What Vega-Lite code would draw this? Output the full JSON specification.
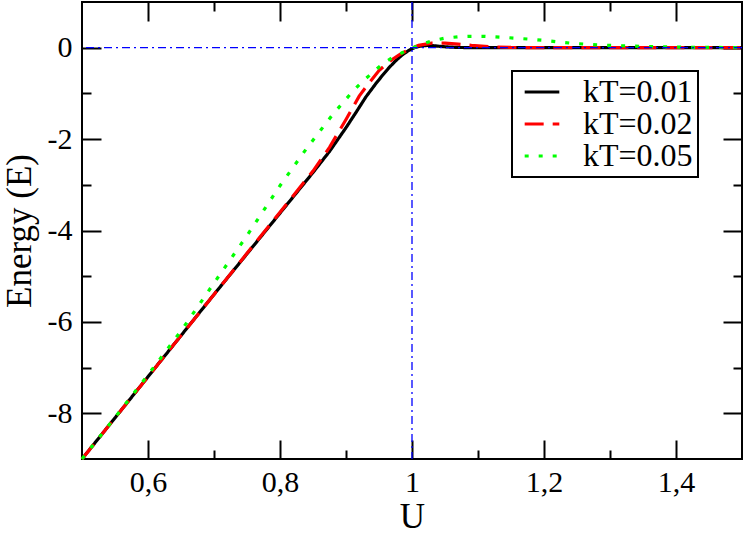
{
  "$schema": "https://vega.github.io/schema/vega-lite/v6.json",
  "width": 660,
  "height": 457,
  "autosize": {"type": "none"},
  "padding": {"left": 82, "top": 2, "right": 5, "bottom": 75},
  "config": {
    "view": {"stroke": "#000000", "strokeWidth": 2},
    "axis": {
      "domain": false,
      "grid": false,
      "labelFont": "Liberation Serif",
      "titleFont": "Liberation Serif",
      "labelColor": "#000000",
      "titleColor": "#000000",
      "tickColor": "#000000",
      "tickWidth": 2,
      "titleFontWeight": "normal"
    }
  },
  "datasets": {
    "curves": [
      {"U": 0.50, "E": -9.00, "kT": "kT=0.01"},
      {"U": 0.55, "E": -8.10, "kT": "kT=0.01"},
      {"U": 0.60, "E": -7.20, "kT": "kT=0.01"},
      {"U": 0.65, "E": -6.30, "kT": "kT=0.01"},
      {"U": 0.70, "E": -5.40, "kT": "kT=0.01"},
      {"U": 0.75, "E": -4.51, "kT": "kT=0.01"},
      {"U": 0.80, "E": -3.62, "kT": "kT=0.01"},
      {"U": 0.85, "E": -2.73, "kT": "kT=0.01"},
      {"U": 0.875, "E": -2.27, "kT": "kT=0.01"},
      {"U": 0.90, "E": -1.75, "kT": "kT=0.01"},
      {"U": 0.915, "E": -1.42, "kT": "kT=0.01"},
      {"U": 0.93, "E": -1.08, "kT": "kT=0.01"},
      {"U": 0.945, "E": -0.79, "kT": "kT=0.01"},
      {"U": 0.955, "E": -0.61, "kT": "kT=0.01"},
      {"U": 0.965, "E": -0.44, "kT": "kT=0.01"},
      {"U": 0.975, "E": -0.29, "kT": "kT=0.01"},
      {"U": 0.985, "E": -0.16, "kT": "kT=0.01"},
      {"U": 0.995, "E": -0.06, "kT": "kT=0.01"},
      {"U": 1.005, "E": 0.01, "kT": "kT=0.01"},
      {"U": 1.015, "E": 0.04, "kT": "kT=0.01"},
      {"U": 1.025, "E": 0.05, "kT": "kT=0.01"},
      {"U": 1.035, "E": 0.04, "kT": "kT=0.01"},
      {"U": 1.05, "E": 0.02, "kT": "kT=0.01"},
      {"U": 1.07, "E": 0.005, "kT": "kT=0.01"},
      {"U": 1.10, "E": 0.0, "kT": "kT=0.01"},
      {"U": 1.20, "E": 0.0, "kT": "kT=0.01"},
      {"U": 1.30, "E": 0.0, "kT": "kT=0.01"},
      {"U": 1.40, "E": 0.0, "kT": "kT=0.01"},
      {"U": 1.50, "E": 0.0, "kT": "kT=0.01"},
      {"U": 0.50, "E": -9.00, "kT": "kT=0.02"},
      {"U": 0.55, "E": -8.10, "kT": "kT=0.02"},
      {"U": 0.60, "E": -7.20, "kT": "kT=0.02"},
      {"U": 0.65, "E": -6.30, "kT": "kT=0.02"},
      {"U": 0.70, "E": -5.40, "kT": "kT=0.02"},
      {"U": 0.75, "E": -4.50, "kT": "kT=0.02"},
      {"U": 0.80, "E": -3.60, "kT": "kT=0.02"},
      {"U": 0.85, "E": -2.70, "kT": "kT=0.02"},
      {"U": 0.875, "E": -2.18, "kT": "kT=0.02"},
      {"U": 0.90, "E": -1.57, "kT": "kT=0.02"},
      {"U": 0.92, "E": -1.06, "kT": "kT=0.02"},
      {"U": 0.935, "E": -0.77, "kT": "kT=0.02"},
      {"U": 0.95, "E": -0.50, "kT": "kT=0.02"},
      {"U": 0.965, "E": -0.31, "kT": "kT=0.02"},
      {"U": 0.98, "E": -0.16, "kT": "kT=0.02"},
      {"U": 0.99, "E": -0.08, "kT": "kT=0.02"},
      {"U": 1.00, "E": -0.01, "kT": "kT=0.02"},
      {"U": 1.01, "E": 0.05, "kT": "kT=0.02"},
      {"U": 1.03, "E": 0.10, "kT": "kT=0.02"},
      {"U": 1.05, "E": 0.10, "kT": "kT=0.02"},
      {"U": 1.07, "E": 0.08, "kT": "kT=0.02"},
      {"U": 1.09, "E": 0.05, "kT": "kT=0.02"},
      {"U": 1.12, "E": 0.02, "kT": "kT=0.02"},
      {"U": 1.15, "E": 0.005, "kT": "kT=0.02"},
      {"U": 1.20, "E": 0.0, "kT": "kT=0.02"},
      {"U": 1.30, "E": 0.0, "kT": "kT=0.02"},
      {"U": 1.40, "E": 0.0, "kT": "kT=0.02"},
      {"U": 1.50, "E": 0.0, "kT": "kT=0.02"},
      {"U": 0.50, "E": -9.00, "kT": "kT=0.05"},
      {"U": 0.55, "E": -8.09, "kT": "kT=0.05"},
      {"U": 0.60, "E": -7.16, "kT": "kT=0.05"},
      {"U": 0.65, "E": -6.20, "kT": "kT=0.05"},
      {"U": 0.70, "E": -5.15, "kT": "kT=0.05"},
      {"U": 0.75, "E": -4.11, "kT": "kT=0.05"},
      {"U": 0.80, "E": -3.02, "kT": "kT=0.05"},
      {"U": 0.84, "E": -2.21, "kT": "kT=0.05"},
      {"U": 0.88, "E": -1.46, "kT": "kT=0.05"},
      {"U": 0.91, "E": -0.96, "kT": "kT=0.05"},
      {"U": 0.925, "E": -0.74, "kT": "kT=0.05"},
      {"U": 0.94, "E": -0.55, "kT": "kT=0.05"},
      {"U": 0.955, "E": -0.36, "kT": "kT=0.05"},
      {"U": 0.97, "E": -0.22, "kT": "kT=0.05"},
      {"U": 0.985, "E": -0.11, "kT": "kT=0.05"},
      {"U": 1.00, "E": -0.01, "kT": "kT=0.05"},
      {"U": 1.01, "E": 0.05, "kT": "kT=0.05"},
      {"U": 1.03, "E": 0.15, "kT": "kT=0.05"},
      {"U": 1.05, "E": 0.21, "kT": "kT=0.05"},
      {"U": 1.07, "E": 0.24, "kT": "kT=0.05"},
      {"U": 1.09, "E": 0.25, "kT": "kT=0.05"},
      {"U": 1.11, "E": 0.25, "kT": "kT=0.05"},
      {"U": 1.135, "E": 0.23, "kT": "kT=0.05"},
      {"U": 1.155, "E": 0.21, "kT": "kT=0.05"},
      {"U": 1.175, "E": 0.19, "kT": "kT=0.05"},
      {"U": 1.20, "E": 0.16, "kT": "kT=0.05"},
      {"U": 1.22, "E": 0.13, "kT": "kT=0.05"},
      {"U": 1.24, "E": 0.10, "kT": "kT=0.05"},
      {"U": 1.26, "E": 0.08, "kT": "kT=0.05"},
      {"U": 1.28, "E": 0.06, "kT": "kT=0.05"},
      {"U": 1.30, "E": 0.05, "kT": "kT=0.05"},
      {"U": 1.345, "E": 0.03, "kT": "kT=0.05"},
      {"U": 1.39, "E": 0.015, "kT": "kT=0.05"},
      {"U": 1.44, "E": 0.007, "kT": "kT=0.05"},
      {"U": 1.50, "E": 0.003, "kT": "kT=0.05"}
    ],
    "refU": [{"U": 1}],
    "refE": [{"E": 0}],
    "anchor": [{"U": 1, "E": 0}]
  },
  "resolve": {"axis": {"x": "independent", "y": "independent"}},
  "layer": [
    {
      "data": {"name": "curves"},
      "mark": {"type": "line", "strokeWidth": 3.2},
      "encoding": {
        "x": {
          "field": "U", "type": "quantitative",
          "scale": {"domain": [0.5, 1.5], "nice": false, "zero": false},
          "axis": {
            "orient": "bottom", "values": [0.6, 0.8, 1, 1.2, 1.4], "ticks": false,
            "labelExpr": "replace('' + datum.value, '.', ',')",
            "labelFontSize": 30, "labelPadding": 8,
            "title": "U", "titleFontSize": 35, "titlePadding": 2
          }
        },
        "y": {
          "field": "E", "type": "quantitative",
          "scale": {"domain": [-9, 1], "nice": false, "zero": false},
          "axis": {
            "orient": "left", "values": [-8, -6, -4, -2, 0], "ticks": false,
            "labelExpr": "datum.value < 0 ? '-' + abs(datum.value) : '' + datum.value",
            "labelFontSize": 30, "labelPadding": 10,
            "title": "Energy (E)", "titleFontSize": 35, "titlePadding": 10
          }
        },
        "color": {
          "field": "kT", "type": "nominal",
          "scale": {"domain": ["kT=0.01", "kT=0.02", "kT=0.05"], "range": ["#000000", "#ff0000", "#00ff00"]},
          "legend": {
            "orient": "none", "legendX": 430, "legendY": 69, "title": null,
            "symbolType": "stroke", "symbolSize": 1200, "symbolStrokeWidth": 3, "symbolOffset": 6,
            "labelFont": "Liberation Serif", "labelFontSize": 32, "labelColor": "#000000",
            "labelExpr": "datum.label + ' '",
            "labelOffset": 22, "labelLimit": 400, "padding": 5, "rowPadding": 0, "clipHeight": 32,
            "strokeColor": "#000000", "fillColor": "#ffffff",
            "encode": {"legend": {"update": {"strokeWidth": {"value": 2}}}}
          }
        },
        "strokeDash": {
          "field": "kT", "type": "nominal",
          "scale": {"domain": ["kT=0.01", "kT=0.02", "kT=0.05"], "range": [[1, 0], [19, 9], [4, 10]]},
          "legend": {
            "orient": "none", "legendX": 430, "legendY": 69, "title": null,
            "symbolType": "stroke", "symbolSize": 1200, "symbolStrokeWidth": 3, "symbolOffset": 6,
            "labelFont": "Liberation Serif", "labelFontSize": 32, "labelColor": "#000000",
            "labelExpr": "datum.label + ' '",
            "labelOffset": 22, "labelLimit": 400, "padding": 5, "rowPadding": 0, "clipHeight": 32,
            "strokeColor": "#000000", "fillColor": "#ffffff",
            "encode": {"legend": {"update": {"strokeWidth": {"value": 2}}}}
          }
        }
      }
    },
    {
      "data": {"name": "anchor"},
      "mark": {"type": "point", "opacity": 0},
      "encoding": {
        "x": {"field": "U", "type": "quantitative",
          "axis": {"orient": "bottom", "values": [0.6, 0.8, 1, 1.2, 1.4], "tickSize": -19, "labels": false, "title": null}},
        "y": {"field": "E", "type": "quantitative",
          "axis": {"orient": "left", "values": [-8, -6, -4, -2, 0], "tickSize": -19, "labels": false, "title": null}}
      }
    },
    {
      "data": {"name": "anchor"},
      "mark": {"type": "point", "opacity": 0},
      "encoding": {
        "x": {"field": "U", "type": "quantitative",
          "axis": {"orient": "bottom", "values": [0.7, 0.9, 1.1, 1.3], "tickSize": -9, "labels": false, "title": null}},
        "y": {"field": "E", "type": "quantitative",
          "axis": {"orient": "left", "values": [-7, -5, -3, -1], "tickSize": -9, "labels": false, "title": null}}
      }
    },
    {
      "data": {"name": "anchor"},
      "mark": {"type": "point", "opacity": 0},
      "encoding": {
        "x": {"field": "U", "type": "quantitative",
          "axis": {"orient": "top", "values": [0.6, 0.8, 1, 1.2, 1.4], "tickSize": -19, "labels": false, "title": null}},
        "y": {"field": "E", "type": "quantitative",
          "axis": {"orient": "right", "values": [-8, -6, -4, -2, 0], "tickSize": -19, "labels": false, "title": null}}
      }
    },
    {
      "data": {"name": "anchor"},
      "mark": {"type": "point", "opacity": 0},
      "encoding": {
        "x": {"field": "U", "type": "quantitative",
          "axis": {"orient": "top", "values": [0.7, 0.9, 1.1, 1.3], "tickSize": -9, "labels": false, "title": null}},
        "y": {"field": "E", "type": "quantitative",
          "axis": {"orient": "right", "values": [-7, -5, -3, -1], "tickSize": -9, "labels": false, "title": null}}
      }
    },
    {
      "data": {"name": "refE"},
      "mark": {"type": "rule", "color": "#0000ff", "strokeWidth": 1.3, "strokeDash": [8, 4, 2, 4]},
      "encoding": {"y": {"field": "E", "type": "quantitative", "axis": null}}
    },
    {
      "data": {"name": "refU"},
      "mark": {"type": "rule", "color": "#0000ff", "strokeWidth": 1.3, "strokeDash": [8, 4, 2, 4]},
      "encoding": {"x": {"field": "U", "type": "quantitative", "axis": null}}
    }
  ]
}
